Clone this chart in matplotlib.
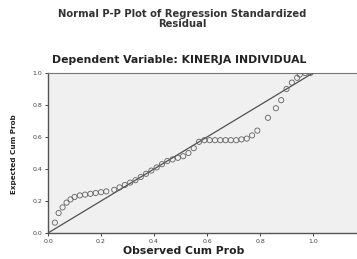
import matplotlib
matplotlib.use("Agg")
import matplotlib.pyplot as plt

observed = [0.026, 0.04, 0.055, 0.07, 0.085, 0.10, 0.12, 0.14, 0.16, 0.18, 0.20, 0.22,
            0.25, 0.27, 0.29, 0.31, 0.33, 0.35, 0.37, 0.39, 0.41, 0.43, 0.45, 0.47,
            0.49, 0.51, 0.53, 0.55, 0.57, 0.59, 0.61, 0.63, 0.65, 0.67, 0.69, 0.71,
            0.73, 0.75, 0.77, 0.79, 0.83, 0.86, 0.88, 0.90, 0.92, 0.94, 0.95, 0.97, 0.99]
expected = [0.065, 0.125, 0.16, 0.19, 0.21, 0.225, 0.235, 0.24, 0.245, 0.25, 0.255, 0.26,
            0.27, 0.285, 0.30, 0.315, 0.33, 0.35, 0.37, 0.39, 0.41, 0.43, 0.45, 0.46,
            0.47, 0.48, 0.50, 0.53, 0.57, 0.58, 0.58, 0.58, 0.58, 0.58, 0.58, 0.58,
            0.585, 0.59, 0.61, 0.64, 0.72, 0.78, 0.83, 0.90, 0.94, 0.97, 0.99, 1.0, 1.0]
ticks = [0.0, 0.2, 0.4, 0.6, 0.8, 1.0]
tick_labels = ["0.0", "0.2", "0.4", "0.6", "0.8", "1.0"]

fig = plt.figure(figsize=(3.57, 2.59), dpi=100)
fig.patch.set_facecolor("white")
ax = fig.add_axes([48/357, 26/259, 1 - 48/357, 160/259])
ax.set_facecolor("#f0f0f0")
ax.set_xlim(0, 1.166)
ax.set_ylim(0, 1.0)

ax.plot([0, 1], [0, 1], color="#505050", lw=0.9, zorder=2)
ax.scatter(observed, expected, s=14, facecolors="none", edgecolors="#606060",
           linewidths=0.6, zorder=3)

ax.set_xticks(ticks)
ax.set_xticklabels(tick_labels)
ax.set_yticks(ticks)
ax.set_yticklabels(tick_labels)
ax.tick_params(axis="both", labelsize=4.5, length=2.5, width=0.7, colors="#444444", pad=1.5)

ax.spines["right"].set_visible(False)
ax.spines["top"].set_color("#777777")
ax.spines["top"].set_linewidth(0.8)
ax.spines["left"].set_color("#555555")
ax.spines["left"].set_linewidth(1.0)
ax.spines["bottom"].set_color("#555555")
ax.spines["bottom"].set_linewidth(1.0)

fig.text(182/357, 1 - 19/259, "Normal P-P Plot of Regression Standardized\nResidual",
         ha="center", va="center", fontsize=7.2, fontweight="bold", color="#333333",
         linespacing=1.0)
fig.text(179/357, 1 - 60/259, "Dependent Variable: KINERJA INDIVIDUAL",
         ha="center", va="center", fontsize=7.8, fontweight="bold", color="#222222")
fig.text(184/357, 1 - 251/259, "Observed Cum Prob", ha="center", va="center",
         fontsize=7.8, fontweight="bold", color="#222222")
fig.text(14/357, 1 - 154/259, "Expected Cum Prob", ha="center", va="center",
         rotation=90, fontsize=5.2, fontweight="bold", color="#222222")

fig.savefig("out.png", dpi=100, facecolor="white")
